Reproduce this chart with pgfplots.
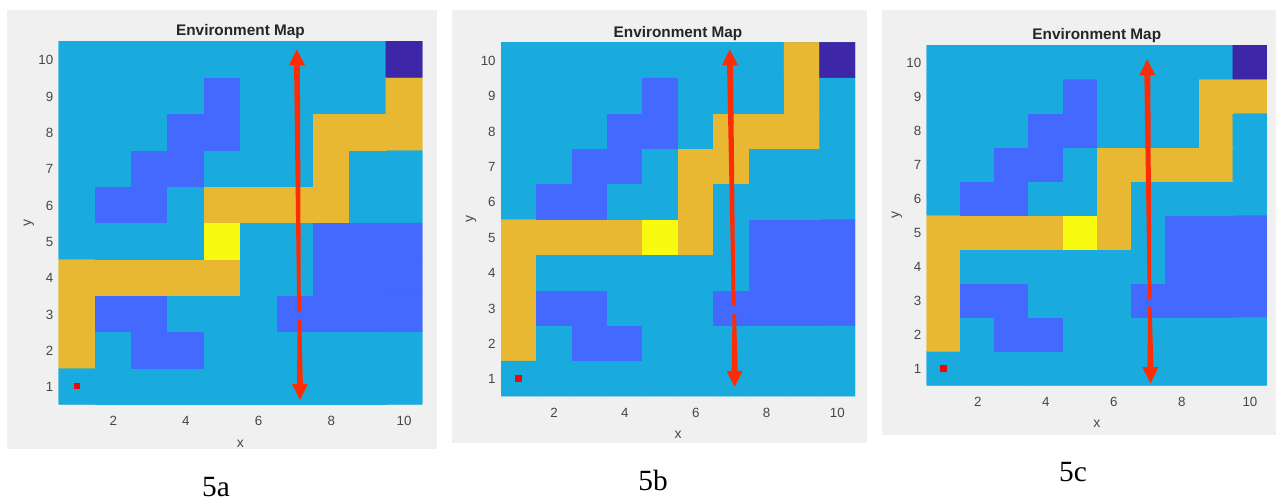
\documentclass[border=0pt]{standalone}
\usepackage{pgfplots}
\pgfplotsset{compat=1.18}
\usepackage{fontspec}
\setmainfont{Liberation Sans}
\newfontfamily\capfont{Liberation Serif}
\definecolor{panel}{RGB}{240,240,240}
\definecolor{txt}{RGB}{70,70,70}
\definecolor{arrowred}{RGB}{252,45,5}
\definecolor{envcyan}{RGB}{26,171,222}
\pgfplotsset{
  envbase/.style={
    scale only axis, anchor=south west,
    xmin=0.5, xmax=10.5, ymin=0.5, ymax=10.5,
  },
  envmap/.style={
    envbase,
    xtick={2,4,6,8,10}, ytick={1,2,3,4,5,6,7,8,9,10},
    axis line style={draw=none}, tick style={draw=none},
    /pgf/number format/assume math mode=true,
    tick label style={font=\fontsize{10}{12}\selectfont, text=txt},
    xticklabel style={yshift=-5.5pt},
    yticklabel style={xshift=-0.5pt, yshift=-0.7pt},
    label style={font=\fontsize{10.5}{12}\selectfont, text=txt},
    xlabel style={yshift=-3.5pt},
    ylabel shift=-3.5pt,
    xlabel={x}, ylabel={y},
    title={Environment Map},
    title style={font=\fontsize{11.5}{13}\bfseries\selectfont, text={black!85}, yshift=-8pt},
    colormap={env}{rgb255=(26,171,222) rgb255=(67,105,255) rgb255=(232,184,50) rgb255=(248,250,15) rgb255=(62,38,168)},
    point meta min=0, point meta max=4,
  },
  overlayaxis/.style={envbase, hide axis},
  gridcells/.style={matrix plot*, mesh/cols=10, point meta=explicit},
  arrowpart/.style={draw=none, fill=arrowred, forget plot},
  startmark/.style={only marks, color=red, mark=square*, mark size=2.1pt, mark options={fill=red, draw=red, line width=0pt}},
}
\begin{document}
\begin{tikzpicture}
\useasboundingbox (0,0) rectangle (957pt,375.75pt);
\fill[panel] (5.25pt,39pt) rectangle (327.75pt,368.25pt);
\fill[panel] (339pt,43.5pt) rectangle (650.25pt,368.25pt);
\fill[panel] (661.5pt,49.5pt) rectangle (957pt,368.25pt);
\fill[envcyan] (44pt,72.5pt) rectangle ++(272.7pt,272.5pt);
\fill[envcyan] (375.75pt,78.75pt) rectangle ++(265.5pt,265.3pt);
\fill[envcyan] (695pt,86.8pt) rectangle ++(255.2pt,255.2pt);

\begin{axis}[envmap, at={(44pt,72.5pt)}, width=272.7pt, height=272.5pt]
\addplot[gridcells] table[row sep=\\, x=x, y=y, meta=c]{
x y c\\
1 1 0\\ 2 1 0\\ 3 1 0\\ 4 1 0\\ 5 1 0\\ 6 1 0\\ 7 1 0\\ 8 1 0\\ 9 1 0\\ 10 1 0\\
1 2 2\\ 2 2 0\\ 3 2 1\\ 4 2 1\\ 5 2 0\\ 6 2 0\\ 7 2 0\\ 8 2 0\\ 9 2 0\\ 10 2 0\\
1 3 2\\ 2 3 1\\ 3 3 1\\ 4 3 0\\ 5 3 0\\ 6 3 0\\ 7 3 1\\ 8 3 1\\ 9 3 1\\ 10 3 1\\
1 4 2\\ 2 4 2\\ 3 4 2\\ 4 4 2\\ 5 4 2\\ 6 4 0\\ 7 4 0\\ 8 4 1\\ 9 4 1\\ 10 4 1\\
1 5 0\\ 2 5 0\\ 3 5 0\\ 4 5 0\\ 5 5 3\\ 6 5 0\\ 7 5 0\\ 8 5 1\\ 9 5 1\\ 10 5 1\\
1 6 0\\ 2 6 1\\ 3 6 1\\ 4 6 0\\ 5 6 2\\ 6 6 2\\ 7 6 2\\ 8 6 2\\ 9 6 0\\ 10 6 0\\
1 7 0\\ 2 7 0\\ 3 7 1\\ 4 7 1\\ 5 7 0\\ 6 7 0\\ 7 7 0\\ 8 7 2\\ 9 7 0\\ 10 7 0\\
1 8 0\\ 2 8 0\\ 3 8 0\\ 4 8 1\\ 5 8 1\\ 6 8 0\\ 7 8 0\\ 8 8 2\\ 9 8 2\\ 10 8 2\\
1 9 0\\ 2 9 0\\ 3 9 0\\ 4 9 0\\ 5 9 1\\ 6 9 0\\ 7 9 0\\ 8 9 0\\ 9 9 0\\ 10 9 2\\
1 10 0\\ 2 10 0\\ 3 10 0\\ 4 10 0\\ 5 10 0\\ 6 10 0\\ 7 10 0\\ 8 10 0\\ 9 10 0\\ 10 10 4\\
};
\end{axis}
\begin{axis}[overlayaxis, at={(44pt,72.5pt)}, width=272.7pt, height=272.5pt]
\addplot[startmark] coordinates {(1,1)};
\addplot[arrowpart] coordinates {(7.05,10.27) (7.274,9.83) (7.134,9.83) (7.16,3.05) (7.06,3.05) (6.974,9.83) (6.834,9.83)} --cycle;
\addplot[arrowpart] coordinates {(7.07,2.84) (7.17,2.84) (7.216,1.06) (7.356,1.06) (7.14,0.62) (6.916,1.06) (7.056,1.06)} --cycle;
\end{axis}

\begin{axis}[envmap, at={(375.75pt,78.75pt)}, width=265.5pt, height=265.3pt]
\addplot[gridcells] table[row sep=\\, x=x, y=y, meta=c]{
x y c\\
1 1 0\\ 2 1 0\\ 3 1 0\\ 4 1 0\\ 5 1 0\\ 6 1 0\\ 7 1 0\\ 8 1 0\\ 9 1 0\\ 10 1 0\\
1 2 2\\ 2 2 0\\ 3 2 1\\ 4 2 1\\ 5 2 0\\ 6 2 0\\ 7 2 0\\ 8 2 0\\ 9 2 0\\ 10 2 0\\
1 3 2\\ 2 3 1\\ 3 3 1\\ 4 3 0\\ 5 3 0\\ 6 3 0\\ 7 3 1\\ 8 3 1\\ 9 3 1\\ 10 3 1\\
1 4 2\\ 2 4 0\\ 3 4 0\\ 4 4 0\\ 5 4 0\\ 6 4 0\\ 7 4 0\\ 8 4 1\\ 9 4 1\\ 10 4 1\\
1 5 2\\ 2 5 2\\ 3 5 2\\ 4 5 2\\ 5 5 3\\ 6 5 2\\ 7 5 0\\ 8 5 1\\ 9 5 1\\ 10 5 1\\
1 6 0\\ 2 6 1\\ 3 6 1\\ 4 6 0\\ 5 6 0\\ 6 6 2\\ 7 6 0\\ 8 6 0\\ 9 6 0\\ 10 6 0\\
1 7 0\\ 2 7 0\\ 3 7 1\\ 4 7 1\\ 5 7 0\\ 6 7 2\\ 7 7 2\\ 8 7 0\\ 9 7 0\\ 10 7 0\\
1 8 0\\ 2 8 0\\ 3 8 0\\ 4 8 1\\ 5 8 1\\ 6 8 0\\ 7 8 2\\ 8 8 2\\ 9 8 2\\ 10 8 0\\
1 9 0\\ 2 9 0\\ 3 9 0\\ 4 9 0\\ 5 9 1\\ 6 9 0\\ 7 9 0\\ 8 9 0\\ 9 9 2\\ 10 9 0\\
1 10 0\\ 2 10 0\\ 3 10 0\\ 4 10 0\\ 5 10 0\\ 6 10 0\\ 7 10 0\\ 8 10 0\\ 9 10 2\\ 10 10 4\\
};
\end{axis}
\begin{axis}[overlayaxis, at={(375.75pt,78.75pt)}, width=265.5pt, height=265.3pt]
\addplot[startmark] coordinates {(1,1)};
\addplot[arrowpart] coordinates {(6.96,10.3) (7.196,9.85) (7.055,9.85) (7.12,3.07) (7.02,3.07) (6.885,9.85) (6.744,9.85)} --cycle;
\addplot[arrowpart] coordinates {(7.04,2.82) (7.14,2.82) (7.185,1.21) (7.326,1.21) (7.10,0.76) (6.874,1.21) (7.015,1.21)} --cycle;
\end{axis}

\begin{axis}[envmap, at={(695pt,86.8pt)}, width=255.2pt, height=255.2pt]
\addplot[gridcells] table[row sep=\\, x=x, y=y, meta=c]{
x y c\\
1 1 0\\ 2 1 0\\ 3 1 0\\ 4 1 0\\ 5 1 0\\ 6 1 0\\ 7 1 0\\ 8 1 0\\ 9 1 0\\ 10 1 0\\
1 2 2\\ 2 2 0\\ 3 2 1\\ 4 2 1\\ 5 2 0\\ 6 2 0\\ 7 2 0\\ 8 2 0\\ 9 2 0\\ 10 2 0\\
1 3 2\\ 2 3 1\\ 3 3 1\\ 4 3 0\\ 5 3 0\\ 6 3 0\\ 7 3 1\\ 8 3 1\\ 9 3 1\\ 10 3 1\\
1 4 2\\ 2 4 0\\ 3 4 0\\ 4 4 0\\ 5 4 0\\ 6 4 0\\ 7 4 0\\ 8 4 1\\ 9 4 1\\ 10 4 1\\
1 5 2\\ 2 5 2\\ 3 5 2\\ 4 5 2\\ 5 5 3\\ 6 5 2\\ 7 5 0\\ 8 5 1\\ 9 5 1\\ 10 5 1\\
1 6 0\\ 2 6 1\\ 3 6 1\\ 4 6 0\\ 5 6 0\\ 6 6 2\\ 7 6 0\\ 8 6 0\\ 9 6 0\\ 10 6 0\\
1 7 0\\ 2 7 0\\ 3 7 1\\ 4 7 1\\ 5 7 0\\ 6 7 2\\ 7 7 2\\ 8 7 2\\ 9 7 2\\ 10 7 0\\
1 8 0\\ 2 8 0\\ 3 8 0\\ 4 8 1\\ 5 8 1\\ 6 8 0\\ 7 8 0\\ 8 8 0\\ 9 8 2\\ 10 8 0\\
1 9 0\\ 2 9 0\\ 3 9 0\\ 4 9 0\\ 5 9 1\\ 6 9 0\\ 7 9 0\\ 8 9 0\\ 9 9 2\\ 10 9 2\\
1 10 0\\ 2 10 0\\ 3 10 0\\ 4 10 0\\ 5 10 0\\ 6 10 0\\ 7 10 0\\ 8 10 0\\ 9 10 0\\ 10 10 4\\
};
\end{axis}
\begin{axis}[overlayaxis, at={(695pt,86.8pt)}, width=255.2pt, height=255.2pt]
\addplot[startmark] coordinates {(1,1)};
\addplot[arrowpart] coordinates {(6.98,10.08) (7.22,9.61) (7.073,9.61) (7.102,3.03) (6.998,3.03) (6.897,9.61) (6.75,9.61)} --cycle;
\addplot[arrowpart] coordinates {(7.008,2.81) (7.112,2.81) (7.164,1.03) (7.311,1.03) (7.08,0.56) (6.841,1.03) (6.988,1.03)} --cycle;
\end{axis}

\node[font=\capfont\fontsize{22}{24}\selectfont] at (162pt,10.5pt) {5a};
\node[font=\capfont\fontsize{22}{24}\selectfont] at (489.75pt,15.75pt) {5b};
\node[font=\capfont\fontsize{22}{24}\selectfont] at (804.75pt,21.75pt) {5c};
\end{tikzpicture}
\end{document}
